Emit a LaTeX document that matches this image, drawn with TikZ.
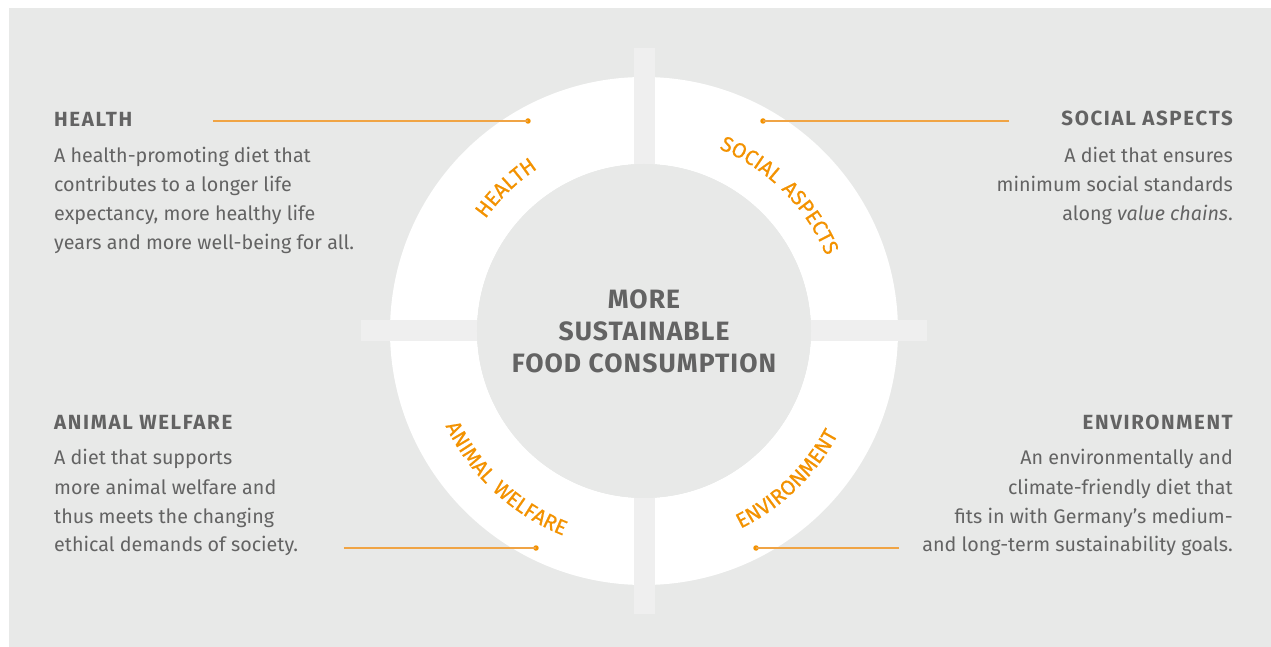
\documentclass[tikz,border=0pt]{standalone}
\usepackage{fontspec}
\setmainfont{Fira Sans}
\newfontfamily\ringfamily[LetterSpace=12, FakeBold=0.6]{Fira Sans}
\newfontfamily\headfamily[LetterSpace=8]{Fira Sans}
\newfontfamily\centrefamily[LetterSpace=4]{Fira Sans}
\usetikzlibrary{positioning,decorations.text}
\definecolor{bggrey}{HTML}{E8E9E8}
\definecolor{bargrey}{HTML}{EFEFEF}
\definecolor{txtgrey}{HTML}{636363}
\definecolor{foodorange}{HTML}{F39200}
\definecolor{leadorange}{HTML}{F0A445}
\newcommand\ringfont{\ringfamily\fontsize{21}{21}\selectfont\color{foodorange}}

\begin{document}
\begin{tikzpicture}[x=1pt, y=1pt,
    head/.style={font=\headfamily\fontsize{20.5}{24}\selectfont\bfseries, text=txtgrey, inner sep=0pt},
    body/.style={font=\fontsize{19.7}{29}\selectfont, text=txtgrey, inner sep=0pt},
    centre/.style={font=\centrefamily\fontsize{26.5}{32}\selectfont\bfseries, text=txtgrey, align=center, inner sep=0pt},
    dot/.style={circle, fill=foodorange, inner sep=0pt, minimum size=5.5pt},
    lead/.style={leadorange, line width=1.3pt},
    ringlabel/.style={decorate, decoration={text along path, text align=center, text={|\ringfont|#1}}}
]
    \useasboundingbox (-644,-316) rectangle (627,331);
    \fill[bggrey] (-635,-316) rectangle (627,323);

    % ring with the cross cut out
    \fill[white, even odd rule] (0,0) circle (254) (0,0) circle (167);
    \fill[bargrey] (-10.5,-283) rectangle (10.5,283);
    \fill[bargrey] (-283,-10.5) rectangle (283,10.5);
    \fill[bggrey] (0,0) circle (167);

    \node[centre, anchor=base] (goal) at (0,-42) {MORE\\SUSTAINABLE\\FOOD CONSUMPTION};

    \path[ringlabel=HEALTH] (165:194) arc[start angle=165, end angle=103, radius=194];
    \path[ringlabel=SOCIAL ASPECTS] (92:197) arc[start angle=92, end angle=-2, radius=197];
    \path[ringlabel=ANIMAL WELFARE] (180:220) arc[start angle=180, end angle=274, radius=220];
    \path[ringlabel=ENVIRONMENT] (-92:220) arc[start angle=-92, end angle=0, radius=220];

    \node[head, anchor=base west] (health) at (-590,204) {HEALTH};
    \node[body, anchor=base west, align=left] (healthtext) at (-590,81)
        {A health-promoting diet that\\contributes to a longer life\\expectancy, more healthy life\\years and more well-being for all.};
    \node[head, anchor=base east] (social) at (589,205) {SOCIAL ASPECTS};
    \node[body, anchor=base east, align=right] (socialtext) at (589,110)
        {A diet that ensures\\minimum social standards\\along \textit{value chains}.};
    \node[head, anchor=base west] (animal) at (-590,-99) {ANIMAL WELFARE};
    \node[body, anchor=base west, align=left] (animaltext) at (-590,-221)
        {A diet that supports\\more animal welfare and\\thus meets the changing\\ethical demands of society.};
    \node[head, anchor=base east] (environment) at (589,-99) {ENVIRONMENT};
    \node[body, anchor=base east, align=right] (environmenttext) at (589,-221)
        {An environmentally and\\climate-friendly diet that\\fits in with Germany’s medium-\\and long-term sustainability goals.};

    \node[dot] (healthdot) at (-116,210) {};
    \node[dot] (socialdot) at (119,210) {};
    \node[dot] (animaldot) at (-108,-217) {};
    \node[dot] (environmentdot) at (112,-217) {};
    \coordinate (healthend) at (-431,210);
    \coordinate (socialend) at (365,210);
    \coordinate (animalend) at (-300,-217);
    \coordinate (environmentend) at (255,-217);
    \draw[lead] (healthend) -- (healthdot.center);
    \draw[lead] (socialend) -- (socialdot.center);
    \draw[lead] (animalend) -- (animaldot.center);
    \draw[lead] (environmentend) -- (environmentdot.center);
\end{tikzpicture}
\end{document}
